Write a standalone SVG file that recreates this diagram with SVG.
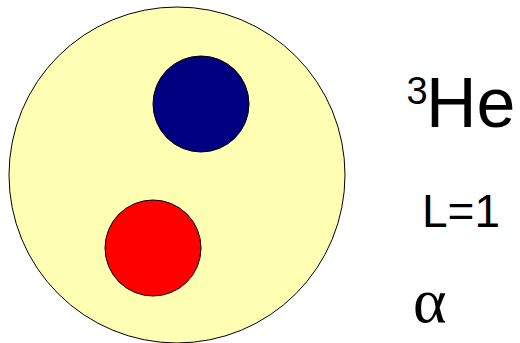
<svg xmlns="http://www.w3.org/2000/svg" width="520" height="343" viewBox="0 0 520 343">
<style>
.b{stroke:#000;stroke-width:1}
.t{font-family:"Liberation Sans",Arial,sans-serif;fill:#000}
</style>
<rect width="520" height="343" fill="#fff"/>
<g id="nucleus"><circle class="b" cx="177" cy="175" r="168" fill="#ffffb3"/></g>
<g id="blue"><circle class="b" cx="201" cy="104" r="48" fill="#000080"/></g>
<g id="red"><circle class="b" cx="153" cy="248" r="48" fill="#ff0000"/></g>
<g id="connectors"/>
<g id="labels">
<text class="t" x="406.5" y="104" font-size="38">3</text>
<text class="t" x="426" y="127" font-size="70">He</text>
<text class="t" x="422" y="227" font-size="46">L=1</text>
<text x="413" y="322" font-size="64" font-family="Liberation Serif,Times New Roman,serif">α</text>
</g>
</svg>
